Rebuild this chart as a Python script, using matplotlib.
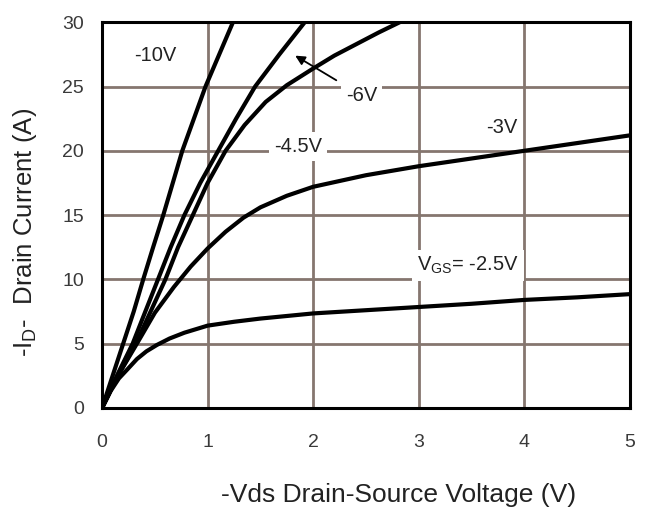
import matplotlib
matplotlib.use("Agg")
import matplotlib.pyplot as plt

plt.rcParams['font.family'] = ['Liberation Sans', 'DejaVu Sans']

# -------------------------------
# Output characteristics, -Id vs -Vds for several gate voltages
# -------------------------------
vds_10 = [0, 0.1, 0.2, 0.3, 0.39, 0.48, 0.58, 0.67, 0.76, 0.87, 0.98, 1.11, 1.24]
id_10 = [0, 2.5, 5, 7.5, 10, 12.4, 15, 17.5, 20, 22.5, 25, 27.5, 30]

vds_6 = [0, 0.14, 0.29, 0.41, 0.53, 0.65, 0.78, 0.93, 1.1, 1.27, 1.45, 1.68, 1.92]
id_6 = [0, 2.5, 5, 7.5, 10, 12.5, 15, 17.5, 20, 22.5, 25, 27.5, 30]

vds_45 = [0, 0.15, 0.32, 0.46, 0.6, 0.72, 0.86, 1.0, 1.17, 1.35, 1.55, 1.75,
          2.0, 2.2, 2.41, 2.62, 2.82]
id_45 = [0, 2.5, 5, 7.5, 10, 12.5, 15, 17.5, 20, 22.0, 23.8, 25.1,
         26.4, 27.4, 28.3, 29.2, 30]

vds_3 = [0, 0.15, 0.33, 0.5, 0.68, 0.84, 1.0, 1.17, 1.34, 1.5, 1.75, 2.0,
         2.5, 3.0, 3.5, 4.0, 4.5, 5.0]
id_3 = [0, 2.5, 5, 7.4, 9.4, 11.0, 12.4, 13.7, 14.8, 15.6, 16.5, 17.2,
        18.1, 18.8, 19.4, 20.0, 20.6, 21.2]

vds_25 = [0, 0.08, 0.16, 0.24, 0.33, 0.42, 0.52, 0.64, 0.78, 1.0, 1.25, 1.5,
          2.0, 2.5, 3.0, 3.5, 4.0, 4.5, 5.0]
id_25 = [0, 1.3, 2.3, 3.0, 3.8, 4.4, 4.9, 5.4, 5.85, 6.4, 6.7, 6.95,
         7.35, 7.6, 7.85, 8.1, 8.4, 8.6, 8.85]

x_ticks = [0, 1, 2, 3, 4, 5]
y_ticks = [0, 5, 10, 15, 20, 25, 30]

# -------------------------------
# Figure
# -------------------------------
fig = plt.figure(figsize=(6.46, 5.17), dpi=100)
ax = fig.add_axes([0.158, 0.211, 0.817, 0.746])

grid_col = '#85766f'
ax.set_axisbelow(True)
ax.grid(True, color=grid_col, linewidth=2.0)

for v, i in [(vds_10, id_10), (vds_6, id_6), (vds_45, id_45), (vds_3, id_3), (vds_25, id_25)]:
    ax.plot(v, i, color='black', linewidth=3.0, solid_capstyle='round',
            solid_joinstyle='round', zorder=2)

ax.set_xlim(0, 5)
ax.set_ylim(0, 30)
ax.set_xticks(x_ticks)
ax.set_yticks(y_ticks)
ax.tick_params(axis='both', length=0, labelsize=14, labelcolor='#3a3a3a')
ax.tick_params(axis='x', pad=19)
ax.tick_params(axis='y', pad=13)

for s in ax.spines.values():
    s.set_linewidth(2.2)
    s.set_color('black')

# curve labels, white box breaks the grid behind them
box = dict(boxstyle='square,pad=0.25', facecolor='white', edgecolor='none')
lab_kw = dict(fontsize=14.5, color='#222222', ha='center', va='center', bbox=box, zorder=3)
ax.text(0.50, 27.4, '-10V', **lab_kw)
ax.text(1.86, 20.3, '-4.5V', **lab_kw)
ax.text(3.79, 21.8, '-3V', **lab_kw)
ax.text(3.47, 11.1, r'V$\mathregular{_{GS}}$= -2.5V', **lab_kw)
ax.annotate('-6V', xy=(1.83, 27.4), xytext=(2.46, 24.3),
            arrowprops=dict(arrowstyle='-|>', color='black', lw=1.3,
                            shrinkA=4, shrinkB=0, mutation_scale=14),
            **lab_kw)

ax.set_xlabel('-Vds Drain-Source Voltage (V)', fontsize=19, color='#222222')
ax.set_ylabel(r'-I$\mathregular{_D}$-  Drain Current (A)', fontsize=18.5, color='#222222')
ax.xaxis.set_label_coords(0.5625, -0.225)
ax.xaxis.label.set_va('center')
ax.yaxis.set_label_coords(-0.146, 0.456)
ax.yaxis.label.set_va('center')

fig.savefig('out.png', dpi=100, facecolor='white')
